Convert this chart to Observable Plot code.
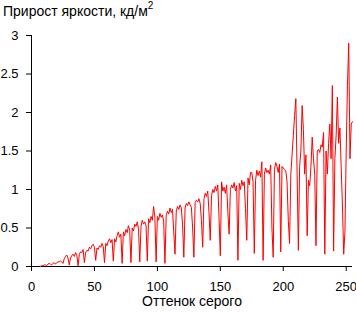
<!DOCTYPE html>
<html>
<head>
<meta charset="utf-8">
<script src="https://cdn.jsdelivr.net/npm/d3@7"></script>
<script src="https://cdn.jsdelivr.net/npm/@observablehq/plot@0.6"></script>
<style>
  html, body { margin: 0; padding: 0; background: #fff; }
  #wrap { position: relative; width: 356px; height: 312px; font-family: "Liberation Sans", Arial, sans-serif; }
  #title { position: absolute; left: 3px; top: 1px; font-size: 14px; color: #000; white-space: nowrap; }
  #title sup { font-size: 10px; position: relative; top: -1px; }
</style>
</head>
<body>
<div id="wrap">
  <div id="title">Прирост яркости, кд/м<sup>2</sup></div>
  <div id="chart"></div>
</div>
<script>
const titleText = "Прирост яркости, кд/м²";
const xLabel = "Оттенок серого";
const firstGray = 7;
const xTicks = [0, 50, 100, 150, 200, 250];
const yTicks = [0, 0.5, 1, 1.5, 2, 2.5, 3];
const yTickLabels = ["0", "0.5", "1", "1.5", "2", "2.5", "3"];
// Brightness increment for gray levels 7..255
const increments = [
  0.00, 0.01, 0.01, 0.02, 0.02, 0.01, 0.03, 0.04, 0.03, 0.02,
  0.04, 0.05, 0.03, 0.05, 0.06, 0.06, 0.07, 0.06, 0.04, 0.10,
  0.13, 0.15, 0.11, 0.02, 0.11, 0.14, 0.16, 0.13, 0.18, 0.15,
  0.01, 0.16, 0.19, 0.18, 0.22, 0.05, 0.18, 0.21, 0.20, 0.25,
  0.23, 0.27, 0.29, 0.25, 0.08, 0.24, 0.22, 0.27, 0.25, 0.30,
  0.26, 0.05, 0.30, 0.27, 0.33, 0.36, 0.31, 0.35, 0.07, 0.36,
  0.32, 0.40, 0.45, 0.38, 0.42, 0.04, 0.45, 0.40, 0.48, 0.44,
  0.53, 0.47, 0.05, 0.50, 0.46, 0.55, 0.52, 0.58, 0.49, 0.06,
  0.52, 0.60, 0.55, 0.58, 0.53, 0.07, 0.62, 0.57, 0.65, 0.60,
  0.78, 0.64, 0.06, 0.65, 0.60, 0.69, 0.64, 0.67, 0.58, 0.04,
  0.66, 0.72, 0.68, 0.76, 0.70, 0.74, 0.45, 0.16, 0.72, 0.78,
  0.74, 0.80, 0.76, 0.55, 0.12, 0.76, 0.82, 0.79, 0.84, 0.80,
  0.77, 0.50, 0.12, 0.83, 0.86, 0.84, 0.88, 0.82, 0.60, 0.25,
  0.88, 0.95, 0.91, 0.98, 0.70, 0.34, 0.92, 1.00, 0.96, 1.04,
  0.98, 1.06, 0.62, 0.14, 1.10, 0.98, 1.03, 0.95, 1.06, 0.70,
  0.42, 1.00, 1.06, 1.02, 1.09, 0.98, 1.05, 0.08, 1.08, 1.00,
  1.12, 1.05, 1.10, 0.75, 0.34, 1.15, 1.06, 1.22, 1.22, 1.10,
  0.17, 1.12, 1.25, 1.18, 1.24, 1.16, 1.36, 0.08, 1.20, 1.28,
  1.22, 1.25, 1.20, 1.32, 0.50, 0.12, 1.26, 1.35, 1.30, 1.22,
  1.33, 0.19, 1.30, 1.28, 1.26, 1.24, 1.10, 0.60, 0.30, 1.20,
  1.45, 1.70, 1.96, 2.18, 1.20, 0.21, 1.30, 1.50, 2.09, 1.78,
  1.20, 1.45, 0.40, 1.12, 1.05, 1.30, 1.68, 1.40, 1.20, 0.27,
  1.50, 1.52, 1.48, 1.58, 1.55, 1.74, 0.16, 1.50, 1.20, 1.60,
  1.85, 1.40, 2.35, 0.20, 1.40, 1.70, 2.20, 1.60, 1.80, 1.30,
  0.80, 0.16, 0.45, 1.50, 2.35, 2.90, 1.40, 1.85, 1.88
];
const data = increments.map((v, i) => ({gray: firstGray + i, value: v}));

const chart = Plot.plot({
  width: 356,
  height: 312,
  marginLeft: 31,
  marginRight: 4,
  marginTop: 35,
  marginBottom: 46,
  style: {fontFamily: "'Liberation Sans', Arial, sans-serif", fontSize: "14px", color: "#000", background: "#fff"},
  x: {domain: [0, 255]},
  y: {domain: [0, 3]},
  marks: [
    Plot.axisX({ticks: xTicks, tickSize: 5, tickPadding: 10, label: null, stroke: "#000", fill: "#000", fontSize: 13}),
    Plot.axisY({ticks: yTicks, tickSize: 5, tickPadding: 8, label: null, stroke: "#000", fill: "#000", fontSize: 13,
      tickFormat: (d) => yTickLabels[yTicks.indexOf(d)]}),
    Plot.text([xLabel], {frameAnchor: "bottom", dy: 39, fontSize: 14, fill: "#000"}),
    Plot.ruleY([0], {stroke: "#000"}),
    Plot.ruleX([0], {stroke: "#000"}),
    Plot.line(data, {x: "gray", y: "value", stroke: "#ff0000", strokeWidth: 1})
  ]
});
document.getElementById("chart").appendChild(chart);
</script>
</body>
</html>
